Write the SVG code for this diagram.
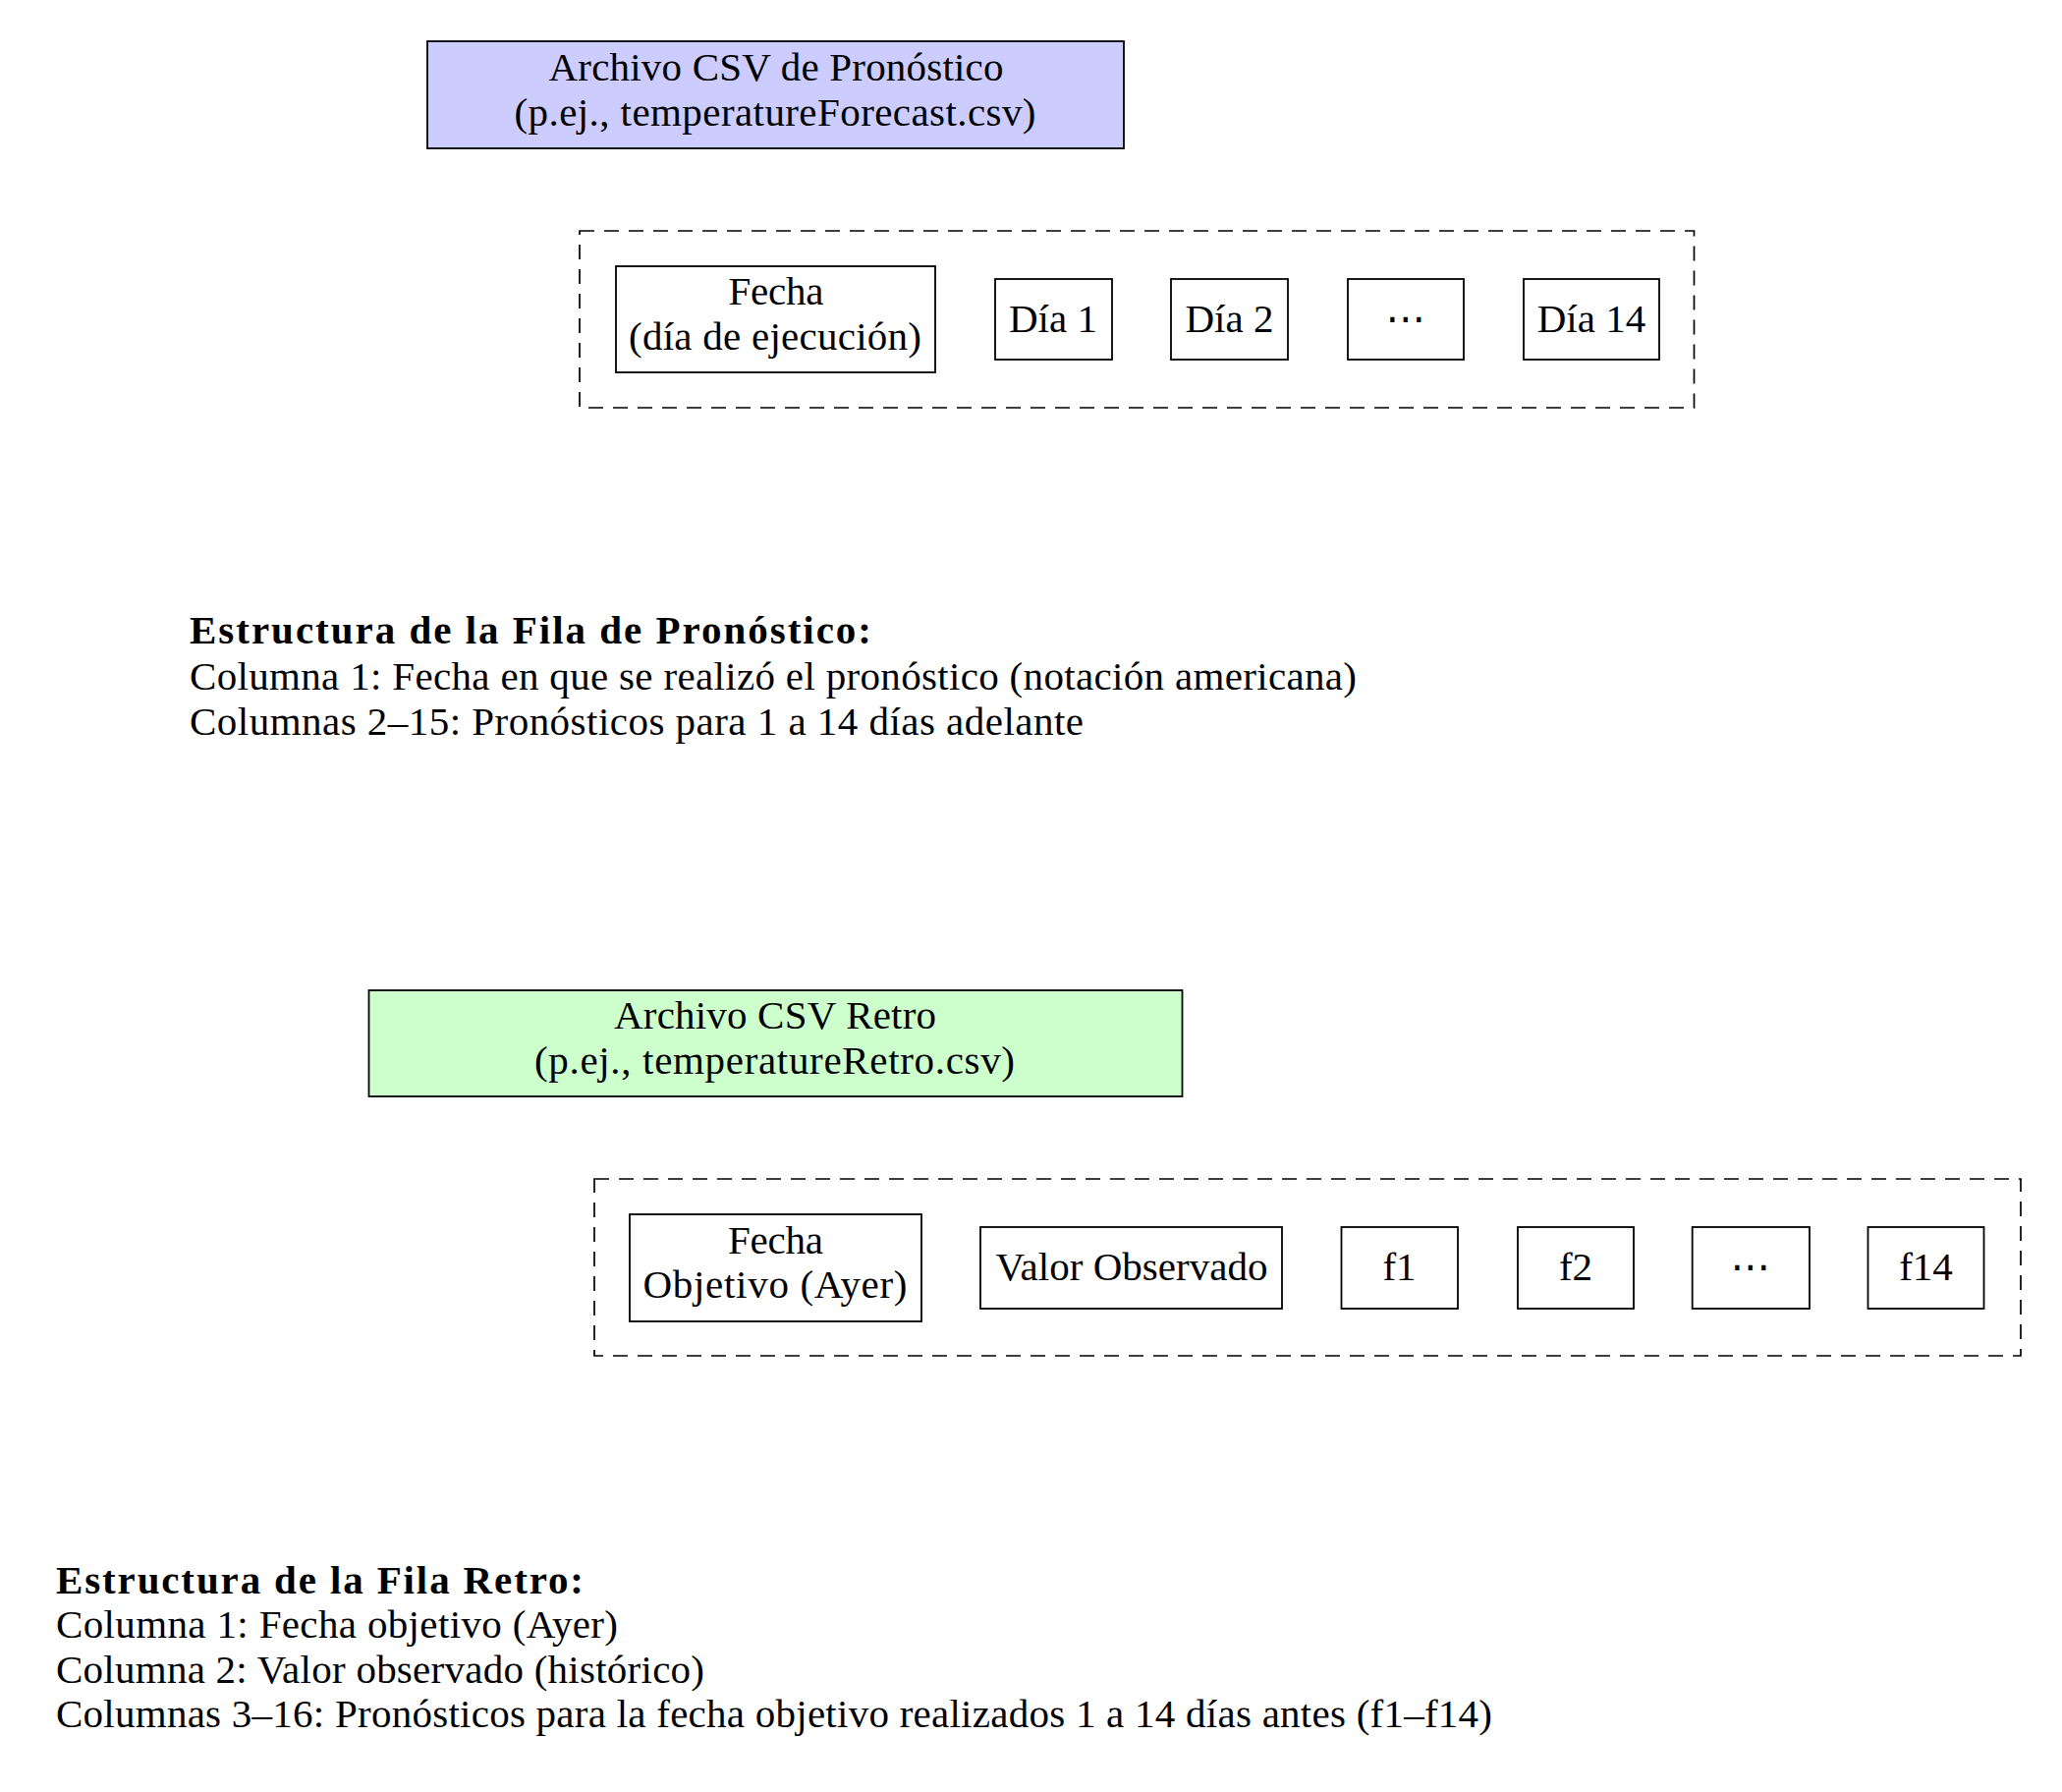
<svg xmlns="http://www.w3.org/2000/svg" width="2099" height="1824" viewBox="0 0 2099 1824">
  <style>
    .bg { fill: #ffffff; }
    .box { fill: #ffffff; stroke: #000000; stroke-width: 1.8; }
    .blue { fill: #CCCCFF; }
    .green { fill: #CCFFCC; }
    .dash { fill: none; stroke: #000000; stroke-width: 1.7; stroke-dasharray: 15 10; }
    .t { font-family: "Liberation Serif", "Times New Roman", serif; font-size: 41px; fill: #000000; }
    .c { text-anchor: middle; }
    .b { font-weight: bold; }
    .dots { font-family: "DejaVu Sans", sans-serif; font-size: 41px; fill: #000000; text-anchor: middle; }
  </style>
  <rect class="bg" x="0" y="0" width="2099" height="1824"/>

  <g id="connectors"></g>

  <!-- Forecast file -->
  <g id="forecast-file">
    <rect class="box blue" x="435" y="42" width="709" height="109"/>
    <text class="t c" x="790" y="82" textLength="463" lengthAdjust="spacing">Archivo CSV de Pronóstico</text>
    <text class="t c" x="789" y="128" textLength="531" lengthAdjust="spacing">(p.ej., temperatureForecast.csv)</text>
  </g>

  <g id="forecast-row">
    <rect class="dash" x="590" y="235" width="1134.5" height="180"/>
  </g>

  <g id="f-fecha">
    <rect class="box" x="627" y="271" width="325" height="108"/>
    <text class="t c" x="790" y="310" textLength="97" lengthAdjust="spacing">Fecha</text>
    <text class="t c" x="789" y="356" textLength="298" lengthAdjust="spacing">(día de ejecución)</text>
  </g>
  <g id="f-dia1">
    <rect class="box" x="1013" y="284" width="119" height="82"/>
    <text class="t c" x="1072" y="338">Día 1</text>
  </g>
  <g id="f-dia2">
    <rect class="box" x="1192" y="284" width="119" height="82"/>
    <text class="t c" x="1251.5" y="338">Día 2</text>
  </g>
  <g id="f-dots">
    <rect class="box" x="1372" y="284" width="118" height="82"/>
    <text class="dots" x="1431" y="338">⋯</text>
  </g>
  <g id="f-dia14">
    <rect class="box" x="1551" y="284" width="138" height="82"/>
    <text class="t c" x="1620" y="338">Día 14</text>
  </g>

  <g id="forecast-structure">
    <text class="t b" x="193" y="655" textLength="694" lengthAdjust="spacing">Estructura de la Fila de Pronóstico:</text>
    <text class="t" x="193" y="702" textLength="1188" lengthAdjust="spacing">Columna 1: Fecha en que se realizó el pronóstico (notación americana)</text>
    <text class="t" x="193" y="748" textLength="910" lengthAdjust="spacing">Columnas 2–15: Pronósticos para 1 a 14 días adelante</text>
  </g>

  <!-- Retro file -->
  <g id="retro-file">
    <rect class="box green" x="375.5" y="1008" width="828" height="108"/>
    <text class="t c" x="789" y="1047" textLength="328" lengthAdjust="spacing">Archivo CSV Retro</text>
    <text class="t c" x="788.5" y="1093" textLength="489" lengthAdjust="spacing">(p.ej., temperatureRetro.csv)</text>
  </g>

  <g id="retro-row">
    <rect class="dash" x="605" y="1200" width="1452" height="180"/>
  </g>

  <g id="r-fecha">
    <rect class="box" x="641" y="1236" width="297" height="109"/>
    <text class="t c" x="789.5" y="1275.5" textLength="97" lengthAdjust="spacing">Fecha</text>
    <text class="t c" x="789" y="1321" textLength="269" lengthAdjust="spacing">Objetivo (Ayer)</text>
  </g>
  <g id="r-valor">
    <rect class="box" x="998" y="1249" width="307" height="83"/>
    <text class="t c" x="1152" y="1303" textLength="277" lengthAdjust="spacing">Valor Observado</text>
  </g>
  <g id="r-f1">
    <rect class="box" x="1365.5" y="1249" width="118.5" height="83"/>
    <text class="t c" x="1424.5" y="1303">f1</text>
  </g>
  <g id="r-f2">
    <rect class="box" x="1545" y="1249" width="118" height="83"/>
    <text class="t c" x="1604" y="1303">f2</text>
  </g>
  <g id="r-dots">
    <rect class="box" x="1722.7" y="1249" width="119.3" height="83"/>
    <text class="dots" x="1782" y="1303">⋯</text>
  </g>
  <g id="r-f14">
    <rect class="box" x="1901.5" y="1249" width="118" height="83"/>
    <text class="t c" x="1960.5" y="1303">f14</text>
  </g>

  <g id="retro-structure">
    <text class="t b" x="57" y="1621.5" textLength="537" lengthAdjust="spacing">Estructura de la Fila Retro:</text>
    <text class="t" x="57" y="1667" textLength="572" lengthAdjust="spacing">Columna 1: Fecha objetivo (Ayer)</text>
    <text class="t" x="57" y="1713" textLength="660" lengthAdjust="spacing">Columna 2: Valor observado (histórico)</text>
    <text class="t" x="57" y="1758" textLength="1462" lengthAdjust="spacing">Columnas 3–16: Pronósticos para la fecha objetivo realizados 1 a 14 días antes (f1–f14)</text>
  </g>
</svg>
